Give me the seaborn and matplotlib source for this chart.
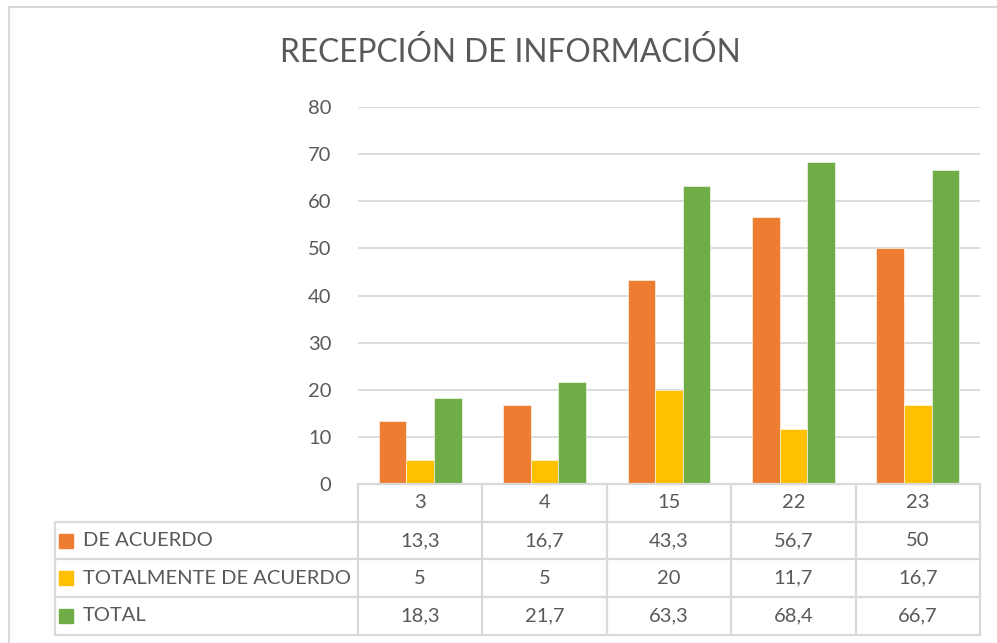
import numpy as np
import pandas as pd
import matplotlib
matplotlib.use("Agg")
import matplotlib.pyplot as plt
import matplotlib.transforms as mtransforms
from matplotlib.patches import Rectangle
import seaborn as sns

# Data
categorias = ["3", "4", "15", "22", "23"]
series = ["DE ACUERDO", "TOTALMENTE DE ACUERDO", "TOTAL"]
de_acuerdo = [13.3, 16.7, 43.3, 56.7, 50]
totalmente = [5, 5, 20, 11.7, 16.7]
total = [18.3, 21.7, 63.3, 68.4, 66.7]
colores = ["#ED7D31", "#FFC000", "#70AD47"]

valores = [de_acuerdo, totalmente, total]
df = pd.DataFrame({
    "cat": categorias * 3,
    "serie": [s for s in series for _ in categorias],
    "valor": de_acuerdo + totalmente + total,
})

sns.set_theme(style="white")
plt.rcParams["font.family"] = ["Lato", "DejaVu Sans"]
txt = "#595959"
linea = "#D9D9D9"
fs = 14.5

fig = plt.figure(figsize=(9.97, 6.43), dpi=100)
W, H = 997, 643
ax = fig.add_axes([358 / W, 1 - 484 / H, 622 / W, 377 / H])

sns.barplot(data=df, x="cat", y="valor", hue="serie", order=categorias,
            hue_order=series, palette=colores, width=0.667, saturation=1,
            legend=False, ax=ax, edgecolor="white", linewidth=0.4)

ax.set_xlim(-0.5, len(categorias) - 0.5)
ax.set_ylim(0, 80)
ax.set_yticks(np.arange(0, 81, 10))
ax.yaxis.grid(True, color=linea, linewidth=1.3)
ax.set_axisbelow(True)
for s in ax.spines.values():
    s.set_visible(False)
ax.set_xticks([])
ax.set_xlabel("")
ax.set_ylabel("")
ax.tick_params(axis="y", length=0, pad=19, labelsize=fs, labelcolor=txt)

# Data table under the plot
tr = mtransforms.blended_transform_factory(ax.transData, ax.transAxes)
n = len(categorias)
x_izq = -0.5 - (358 - 55) / 124.4
fila = 0.1
kw = dict(color=linea, linewidth=1.6, transform=tr, clip_on=False)
ax.plot([-0.5, n - 0.5], [0, 0], **kw)
for r in range(1, 5):
    ax.plot([x_izq, n - 0.5], [-r * fila, -r * fila], **kw)
for i in range(n + 1):
    ax.plot([i - 0.5, i - 0.5], [0, -4 * fila], **kw)
ax.plot([x_izq, x_izq], [-fila, -4 * fila], **kw)

for i, c in enumerate(categorias):
    ax.text(i, -0.5 * fila, c, transform=tr, ha="center", va="center",
            fontsize=fs, color=txt)
for r, (nombre, vals, col) in enumerate(zip(series, valores, colores)):
    y = -(r + 1.5) * fila
    for i, v in enumerate(vals):
        s = f"{v:g}".replace(".", ",")
        ax.text(i, y, s, transform=tr, ha="center", va="center",
                fontsize=fs, color=txt)
    ax.plot([x_izq + 0.085], [y], marker="s", markersize=10, color=col,
            transform=tr, clip_on=False, linestyle="none")
    ax.text(x_izq + 0.225, y, nombre, transform=tr, ha="left", va="center",
            fontsize=fs, color=txt)

# Title and chart border
fig.text(510 / W, 1 - 52 / H, "RECEPCIÓN DE INFORMACIÓN", ha="center",
         va="center", fontsize=22.8, color=txt)
fig.patches.append(Rectangle((9 / W, -0.05), 1.1, 1 - 7 / H + 0.05,
                             transform=fig.transFigure, fill=False,
                             edgecolor=linea, linewidth=1.5))

fig.savefig("out.png", dpi=100)
